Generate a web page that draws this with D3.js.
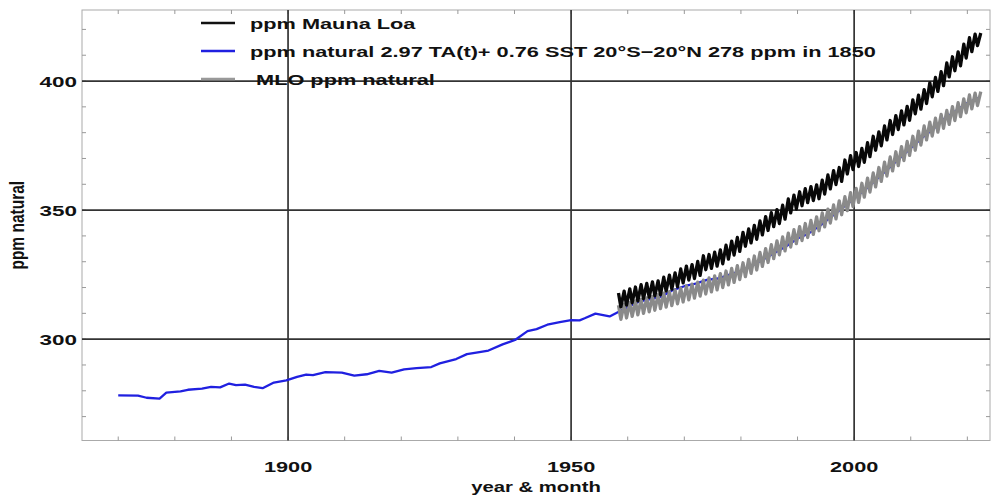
<!DOCTYPE html>
<html>
<head>
<meta charset="utf-8">
<script src="https://cdn.jsdelivr.net/npm/d3@7"></script>
<style>
  html, body { margin: 0; padding: 0; background: #fff; }
  svg { display: block; }
  text { font-family: "Liberation Sans", Arial, sans-serif; font-weight: bold; fill: #111; }
</style>
</head>
<body>
<svg id="chart" width="991" height="498"></svg>
<script>
// ---------------- data ----------------
const xGridYears = [1900, 1950, 2000];
const yGridPpm = [300, 350, 400];
const xTickLabels = ["1900", "1950", "2000"];
const yTickLabels = ["300", "350", "400"];

const seriesNames = [
  "ppm Mauna Loa",
  "ppm natural 2.97 TA(t)+ 0.76 SST 20°S\u221220°N 278 ppm in 1850",
  " MLO ppm natural"
];

// blue: natural ppm
const blueYears = [1870, 1873.5, 1875, 1877.3, 1878.5, 1881, 1882.3, 1884.8, 1886.4, 1888,
  1889.6, 1890.8, 1892.4, 1894, 1895.5, 1897.5, 1899.7, 1901.6, 1903.2, 1904.4,
  1906.6, 1909.5, 1911.7, 1913.9, 1916.1, 1918.3, 1920.5, 1922.7, 1925.3, 1926.8,
  1929.7, 1931.6, 1933.8, 1935.4, 1937.9, 1940.1, 1942.3, 1943.9, 1945.8, 1948,
  1950, 1951.5, 1952.4, 1954.3, 1956.8, 1958.6, 1960, 1962, 1964, 1966,
  1968, 1970, 1972, 1974, 1976, 1978, 1980, 1982, 1984, 1986,
  1988, 1990, 1992, 1994, 1996, 1998, 2000, 2002, 2004, 2006,
  2008, 2010, 2012, 2014, 2016, 2018, 2020, 2022];
const bluePpm = [278.2, 278.1, 277.3, 277.0, 279.3, 279.8, 280.4, 280.8, 281.5, 281.3,
  282.8, 282.2, 282.4, 281.5, 281.0, 283.2, 284.0, 285.4, 286.3, 286.1,
  287.2, 287.0, 285.9, 286.4, 287.7, 287.0, 288.3, 288.8, 289.2, 290.6,
  292.3, 294.2, 295.0, 295.6, 298.0, 299.7, 303.1, 303.9, 305.6, 306.6,
  307.4, 307.3, 308.1, 309.9, 308.8, 310.8, 312.5, 314.5, 315.5, 316.5,
  319.0, 320.5, 321.5, 323.0, 323.5, 325.0, 326.5, 328.5, 331.0, 333.5,
  336.0, 339.0, 341.0, 344.0, 347.5, 351.0, 354.5, 358.0, 362.0, 366.0,
  370.0, 374.0, 378.0, 381.5, 385.5, 388.5, 391.5, 393.5];

// yearly seasonal maxima (May) and minima (Oct) 1958..2022
const mloYears = [1958,1959,1960,1961,1962,1963,1964,1965,1966,1967,1968,1969,1970,1971,1972,1973,1974,1975,1976,1977,
  1978,1979,1980,1981,1982,1983,1984,1985,1986,1987,1988,1989,1990,1991,1992,1993,1994,1995,1996,1997,
  1998,1999,2000,2001,2002,2003,2004,2005,2006,2007,2008,2009,2010,2011,2012,2013,2014,2015,2016,2017,
  2018,2019,2020,2021,2022];
const mloPeak = [317.9,318.6,319.5,320.2,321.1,321.6,322.2,322.6,324.0,324.8,
  325.7,327.2,328.3,328.9,330.1,332.3,332.8,333.7,334.6,336.4,
  338.0,339.4,341.4,342.7,344.1,345.8,347.5,349.0,350.2,351.9,
  354.3,355.8,357.1,358.3,359.1,359.8,361.6,363.6,365.3,366.5,
  369.4,371.1,372.3,373.9,376.1,378.6,380.3,382.6,384.7,386.6,
  388.4,390.2,392.7,394.5,396.7,399.3,401.4,403.6,407.0,409.4,
  411.3,414.3,416.8,418.2,418.6];
const mloTrough = [312.5,313.2,314.1,314.8,315.7,316.2,316.8,317.2,318.6,319.4,
  320.3,321.8,322.9,323.5,324.7,326.9,327.4,328.3,329.2,331.0,
  332.6,334.0,336.0,337.3,338.7,340.4,342.1,343.6,344.8,346.5,
  348.9,350.4,351.7,352.9,353.7,354.4,356.2,358.2,359.9,361.1,
  364.0,365.7,366.9,368.5,370.7,373.2,374.9,377.2,379.3,381.2,
  383.0,384.8,387.3,389.1,391.3,393.9,396.0,398.2,401.6,404.0,
  405.9,408.9,411.4,413.7,null];
const natPeak = [313.1,313.6,314.2,314.8,315.4,316.0,316.6,317.2,317.8,318.4,
  319.1,319.8,320.6,321.3,322.1,322.9,323.7,324.5,325.4,326.4,
  327.4,328.5,329.6,330.9,332.2,333.6,335.1,336.6,338.1,339.6,
  341.1,342.4,343.6,344.8,346.0,347.4,348.9,350.4,352.0,353.6,
  355.2,356.8,358.4,360.4,362.4,364.4,366.5,368.6,370.6,372.6,
  374.6,376.6,378.6,380.6,382.6,384.1,385.6,387.1,388.6,390.1,
  391.6,393.1,394.6,395.3,395.9];
const natTrough = [307.7,308.2,308.8,309.4,310.0,310.6,311.2,311.8,312.4,313.0,
  313.7,314.4,315.2,315.9,316.7,317.5,318.3,319.1,320.0,321.0,
  322.0,323.1,324.2,325.5,326.8,328.2,329.7,331.2,332.7,334.2,
  335.7,337.0,338.2,339.4,340.6,342.0,343.5,345.0,346.6,348.2,
  349.8,351.4,353.0,355.0,357.0,359.0,361.1,363.2,365.2,367.2,
  369.2,371.2,373.2,375.2,377.2,378.7,380.2,381.7,383.2,384.7,
  386.2,387.7,389.2,390.5,null];
const peakMonthFrac = 0.37, troughMonthFrac = 0.79;

// ---------------- layout ----------------
const svg = d3.select("#chart");
const L = 82, R = 990, T = 10, B = 440.5;
const x = d3.scaleLinear().domain([1863.6, 2024.0]).range([L, R]);
const y = d3.scaleLinear().domain([260.74, 427.52]).range([B, T]);
const SX = 1.45; // horizontal stretch of the original raster text

function zigzag(years, peaks, troughs) {
  const pts = [];
  years.forEach((yr, i) => {
    if (peaks[i] != null) pts.push([yr + peakMonthFrac, peaks[i]]);
    if (troughs[i] != null) pts.push([yr + troughMonthFrac, troughs[i]]);
  });
  return pts;
}

// frame
svg.append("rect").attr("x", L).attr("y", T).attr("width", R - L).attr("height", B - T)
  .attr("fill", "#fff").attr("stroke", "#aaa").attr("stroke-width", 1);

// minor ticks (inside frame)
const xMinor = d3.range(1870, 2021, 10);
const yMinor = d3.range(270, 421, 10);
const tg = svg.append("g").attr("stroke", "#999").attr("stroke-width", 1);
xMinor.forEach(v => {
  tg.append("line").attr("x1", x(v)).attr("x2", x(v)).attr("y1", B).attr("y2", B - 4);
  tg.append("line").attr("x1", x(v)).attr("x2", x(v)).attr("y1", T).attr("y2", T + 4);
});
yMinor.forEach(v => {
  tg.append("line").attr("y1", y(v)).attr("y2", y(v)).attr("x1", L).attr("x2", L + 4);
  tg.append("line").attr("y1", y(v)).attr("y2", y(v)).attr("x1", R).attr("x2", R - 4);
});

// grid lines
const gg = svg.append("g").attr("stroke", "#333").attr("stroke-width", 1.7);
xGridYears.forEach(v => gg.append("line").attr("x1", x(v)).attr("x2", x(v)).attr("y1", T).attr("y2", B));
yGridPpm.forEach(v => gg.append("line").attr("y1", y(v)).attr("y2", y(v)).attr("x1", L).attr("x2", R));

// stretched text helper
function stext(px, py, str, anchor, size) {
  return svg.append("text")
    .attr("transform", `translate(${px},${py}) scale(${SX},1)`)
    .attr("text-anchor", anchor)
    .attr("font-size", size)
    .attr("xml:space", "preserve")
    .text(str);
}

// tick labels
xGridYears.forEach((v, i) => stext(x(v), 472, xTickLabels[i], "middle", 15));
yGridPpm.forEach((v, i) => stext(77, y(v) + 5.5, yTickLabels[i], "end", 15.5));

// axis titles
stext((L + R) / 2, 492, "year & month", "middle", 14);
svg.append("text")
  .attr("transform", `translate(24,${(T + B) / 2}) scale(1.3,1) rotate(-90)`)
  .attr("text-anchor", "middle").attr("font-size", 15.5)
  .text("ppm natural");

// data lines
const line = d3.line().x(d => x(d[0])).y(d => y(d[1]));
const bluePts = blueYears.map((v, i) => [v, bluePpm[i]]);
svg.append("path").datum(bluePts).attr("d", line).attr("stroke-linejoin", "round")
  .attr("fill", "none").attr("stroke", "#2020e0").attr("stroke-width", 2.3);
svg.append("path").datum(zigzag(mloYears, natPeak, natTrough)).attr("d", line)
  .attr("fill", "none").attr("stroke", "#8a8a8a").attr("stroke-width", 3.3).attr("stroke-linejoin", "round");
svg.append("path").datum(zigzag(mloYears, mloPeak, mloTrough)).attr("d", line)
  .attr("fill", "none").attr("stroke", "#080808").attr("stroke-width", 3.3).attr("stroke-linejoin", "round");

// legend
const legColors = ["#111", "#2020e0", "#999"];
const legY = [23, 51, 79];
seriesNames.forEach((name, i) => {
  svg.append("line").attr("x1", 201).attr("x2", 235).attr("y1", legY[i]).attr("y2", legY[i])
    .attr("stroke", legColors[i]).attr("stroke-width", 2.5);
  stext(250, legY[i] + 5.5, name, "start", 15);
});
</script>
</body>
</html>
